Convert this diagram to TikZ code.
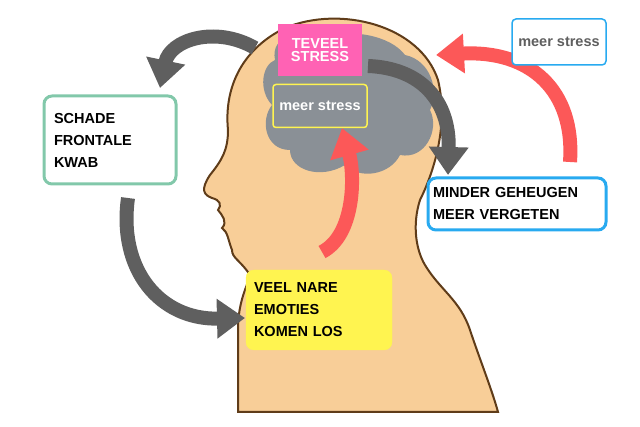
\documentclass[tikz,border=0pt]{standalone}
\usepackage{fontspec}
\setmainfont{Liberation Sans}
\usetikzlibrary{arrows.meta, positioning}
\definecolor{my_skin}{RGB}{248, 206, 152}
\definecolor{my_brown}{RGB}{95, 60, 25}
\definecolor{my_brain}{RGB}{138, 144, 150}
\definecolor{my_pink}{RGB}{255, 98, 180}
\definecolor{my_yellow}{RGB}{255, 244, 80}
\definecolor{my_green}{RGB}{130, 200, 170}
\definecolor{my_blue}{RGB}{40, 170, 240}
\definecolor{my_red}{RGB}{252, 88, 88}
\definecolor{my_gray}{RGB}{95, 95, 95}
\tikzset {
  box/.style = {draw, rounded corners=8pt, rectangle, text width=#1, align=left, font=\bfseries\fontsize{14.5}{17}\selectfont, inner sep=5pt},
  greyarrow/.style = {-{Triangle[length=28pt, width=38pt]}, line width=14pt, color=my_gray},
  redarrow/.style = {-{Triangle[length=28pt, width=38pt]}, line width=14pt, color=my_red},
}
\begin{document}
\begin{tikzpicture}[x=1pt, y=-1pt]
    \useasboundingbox (0,0) rectangle (640,427);

    % head
    \draw[fill=my_skin, draw=my_brown, line width=2pt]
      (238,412) -- (238,330) .. controls (238,300) and (248,285) .. (250,275)
      .. controls (240,260) and (232,258) .. (232,250)
      .. controls (228,240) and (228,232) .. (222,228)
      .. controls (228,222) and (222,215) .. (218,210)
      .. controls (222,205) and (220,200) .. (212,198)
      .. controls (204,195) and (200,190) .. (210,175)
      .. controls (222,160) and (228,150) .. (228,130)
      .. controls (224,90) and (240,50) .. (285,28)
      .. controls (340,5) and (420,25) .. (438,80)
      .. controls (450,130) and (430,180) .. (420,200)
      .. controls (412,225) and (416,250) .. (425,265)
      .. controls (440,290) and (460,300) .. (470,330)
      .. controls (480,360) and (492,390) .. (498,412) -- cycle;
    % brain
    \fill[my_brain] (275,60) .. controls (270,35) and (300,30) .. (320,38)
      .. controls (350,28) and (390,35) .. (405,55)
      .. controls (430,60) and (440,90) .. (430,110)
      .. controls (440,130) and (425,160) .. (400,155)
      .. controls (390,175) and (360,180) .. (345,165)
      .. controls (320,180) and (290,170) .. (290,150)
      .. controls (265,150) and (260,120) .. (272,105)
      .. controls (258,90) and (262,65) .. (275,60) -- cycle;

    % arrows
    \draw[greyarrow] (255,48) .. controls (215,25) and (170,40) .. (160,88);
    \draw[greyarrow] (128,198) .. controls (118,270) and (160,320) .. (245,318);
    \draw[greyarrow] (368,66) .. controls (420,68) and (450,100) .. (448,175);
    \draw[redarrow] (322,252) .. controls (355,235) and (355,175) .. (342,128);
    \draw[redarrow] (570,162) .. controls (575,90) and (530,50) .. (436,55);

    % boxes
    \node[rectangle, fill=my_pink, minimum width=84pt, minimum height=52pt, text width=80pt, align=center,
      font=\bfseries\fontsize{14.5}{13}\selectfont, text=white, inner sep=2pt] (teveel) at (320,50) {TEVEEL\\STRESS};
    \node[rectangle, rounded corners=3pt, draw=my_yellow, line width=1.5pt, minimum width=94pt, minimum height=43pt,
      font=\bfseries\fontsize{14.5}{17}\selectfont, text=white] (meer) at (320,106) {meer stress};
    \node[rectangle, rounded corners=4pt, draw=my_blue, line width=1.5pt, fill=white, minimum width=94pt, minimum height=46pt,
      font=\bfseries\fontsize{14.5}{17}\selectfont, text=my_gray] (meertop) at (559,42) {meer stress};
    \node[box=112pt, draw=my_green, line width=3pt, fill=white, minimum height=88pt, inner xsep=10pt] (schade) at (110,140)
      {SCHADE\\[5pt]FRONTALE\\[5pt]KWAB};
    \node[box=168pt, draw=my_blue, line width=3pt, fill=white, minimum height=52pt] (minder) at (517,204)
      {MINDER GEHEUGEN\\[5pt]MEER VERGETEN};
    \node[box=130pt, fill=my_yellow, draw=my_yellow, minimum height=80pt, inner xsep=8pt] (nare) at (319,310)
      {VEEL NARE\\[5pt]EMOTIES\\[5pt]KOMEN LOS};

  \end{tikzpicture}
\end{document}
